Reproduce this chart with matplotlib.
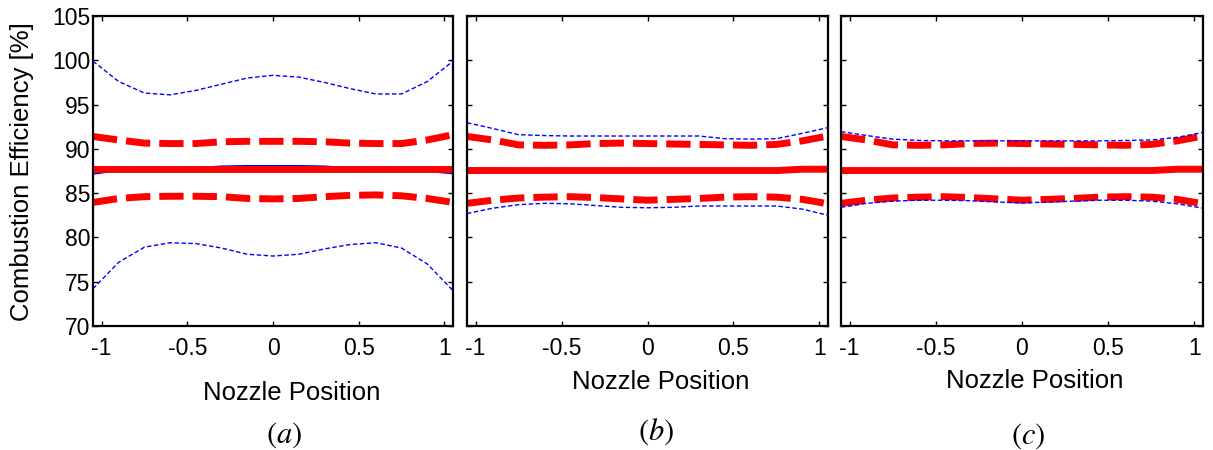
import matplotlib
matplotlib.use("Agg")
import matplotlib.pyplot as plt

plt.rcParams['font.family'] = ['Liberation Sans', 'DejaVu Sans']
plt.rcParams['mathtext.fontset'] = 'stix'

# ---------------- data ----------------
x = [-1.05, -0.9, -0.75, -0.6, -0.45, -0.3, -0.15, 0.0, 0.15, 0.3, 0.45, 0.6, 0.75, 0.9, 1.05]

# panel (a)
a_blue_upper = [99.9, 97.6, 96.3, 96.1, 96.6, 97.3, 98.0, 98.3, 98.1, 97.5, 96.8, 96.2, 96.2, 97.6, 99.9]
a_blue_lower = [74.2, 77.2, 78.9, 79.4, 79.3, 78.8, 78.1, 77.9, 78.1, 78.7, 79.2, 79.4, 78.8, 77.0, 74.0]
a_blue_mean = [87.15, 87.55, 87.75, 87.8, 87.85, 88.05, 88.1, 88.1, 88.1, 88.05, 87.85, 87.8, 87.75, 87.45, 87.2]
a_red_upper = [91.4, 91.0, 90.65, 90.6, 90.6, 90.8, 90.85, 90.85, 90.85, 90.8, 90.65, 90.6, 90.6, 91.0, 91.6]
a_red_lower = [83.95, 84.4, 84.6, 84.65, 84.65, 84.6, 84.4, 84.35, 84.4, 84.6, 84.75, 84.8, 84.7, 84.4, 83.95]
a_red_mean = [87.75] * 15

# panel (b)
b_blue_upper = [92.95, 92.3, 91.6, 91.5, 91.45, 91.45, 91.45, 91.45, 91.45, 91.45, 91.15, 91.1, 91.15, 91.75, 92.4]
b_blue_lower = [82.7, 83.3, 83.7, 83.85, 83.8, 83.6, 83.4, 83.35, 83.4, 83.55, 83.55, 83.55, 83.55, 83.2, 82.5]
b_blue_mean = [87.8, 87.8, 87.75, 87.6, 87.6, 87.6, 87.6, 87.6, 87.6, 87.6, 87.6, 87.6, 87.6, 87.7, 87.7]
b_red_upper = [91.4, 91.0, 90.45, 90.4, 90.45, 90.6, 90.65, 90.6, 90.55, 90.5, 90.45, 90.4, 90.5, 90.9, 91.45]
b_red_lower = [83.85, 84.2, 84.45, 84.55, 84.6, 84.5, 84.35, 84.2, 84.3, 84.4, 84.55, 84.6, 84.55, 84.3, 83.8]
b_red_mean = [87.55, 87.55, 87.55, 87.55, 87.55, 87.55, 87.55, 87.55, 87.55, 87.55, 87.55, 87.55, 87.55, 87.7, 87.7]

# panel (c)
c_blue_upper = [91.95, 91.5, 91.1, 90.95, 90.9, 90.9, 90.9, 90.9, 90.9, 90.9, 90.9, 90.95, 91.0, 91.3, 91.85]
c_blue_lower = [83.4, 83.85, 84.1, 84.2, 84.2, 84.15, 84.0, 83.9, 84.0, 84.1, 84.2, 84.2, 84.1, 83.8, 83.3]
c_blue_mean = [87.55, 87.55, 87.55, 87.55, 87.55, 87.55, 87.55, 87.55, 87.55, 87.55, 87.55, 87.55, 87.55, 87.7, 87.7]
c_red_upper = [91.4, 91.0, 90.45, 90.4, 90.45, 90.6, 90.65, 90.6, 90.55, 90.5, 90.45, 90.4, 90.5, 90.9, 91.45]
c_red_lower = [83.85, 84.2, 84.45, 84.55, 84.6, 84.5, 84.35, 84.2, 84.3, 84.4, 84.55, 84.6, 84.55, 84.3, 83.8]
c_red_mean = [87.55, 87.55, 87.55, 87.55, 87.55, 87.55, 87.55, 87.55, 87.55, 87.55, 87.55, 87.55, 87.55, 87.7, 87.7]

x_ticks = [-1, -0.5, 0, 0.5, 1]
x_tick_labels = ['-1', '-0.5', '0', '0.5', '1']
y_ticks = [70, 75, 80, 85, 90, 95, 100, 105]
panel_labels = ['$(a)$', '$(b)$', '$(c)$']
y_label = 'Combustion Efficiency [%]'
x_label = 'Nozzle Position'

panels = [
    (a_blue_upper, a_blue_lower, a_blue_mean, a_red_upper, a_red_lower, a_red_mean),
    (b_blue_upper, b_blue_lower, b_blue_mean, b_red_upper, b_red_lower, b_red_mean),
    (c_blue_upper, c_blue_lower, c_blue_mean, c_red_upper, c_red_lower, c_red_mean),
]

# ---------------- figure ----------------
W, H = 1213, 450
fig = plt.figure(figsize=(W / 100, H / 100), dpi=100)

axes_px = [(93, 453), (467, 828), (841, 1203)]
top_px, bot_px = 16, 326
xlabel_pos = [(292, 393), (661, 382), (1035, 381)]
plabel_pos = [(284, 435), (656, 432), (1028, 436)]

TICK_FS = 16.5
LABEL_FS = 18.5

for i, (bu, bl, bm, ru, rl, rm) in enumerate(panels):
    l, r = axes_px[i]
    ax = fig.add_axes([l / W, 1 - bot_px / H, (r - l) / W, (bot_px - top_px) / H])
    ax.plot(x, bm, color='#0000ff', lw=1.0, zorder=1)
    ax.plot(x, rm, color='#ff0000', lw=5.0, solid_capstyle='butt', zorder=2)
    ax.plot(x, ru, color='#ff0000', lw=5.0, linestyle=(0, (3.5, 1.3)), zorder=2)
    ax.plot(x, rl, color='#ff0000', lw=5.0, linestyle=(0, (3.5, 1.3)), zorder=2)
    ax.plot(x, bu, color='#0000ff', lw=1.0, linestyle=(0, (3.2, 1.8)), zorder=3)
    ax.plot(x, bl, color='#0000ff', lw=1.0, linestyle=(0, (3.2, 1.8)), zorder=3)

    ax.set_xlim(-1.05, 1.05)
    ax.set_ylim(70, 105)
    ax.set_xticks(x_ticks)
    ax.set_xticklabels(x_tick_labels)
    ax.set_yticks(y_ticks)
    ax.tick_params(direction='in', top=True, right=True, length=3.5, width=1.0,
                   labelsize=TICK_FS)
    ax.tick_params(axis='y', pad=2)
    ax.tick_params(axis='x', pad=8)
    if i > 0:
        ax.set_yticklabels([])
    for s in ax.spines.values():
        s.set_linewidth(1.6)

    fig.text(xlabel_pos[i][0] / W, 1 - xlabel_pos[i][1] / H, x_label,
             ha='center', va='center', fontsize=LABEL_FS)
    fig.text(plabel_pos[i][0] / W, 1 - plabel_pos[i][1] / H, panel_labels[i],
             ha='center', va='center', fontsize=22)

fig.text(22 / W, 1 - 172 / H, y_label, rotation=90, ha='center', va='center',
         fontsize=LABEL_FS)

fig.savefig('out.png', dpi=100)
